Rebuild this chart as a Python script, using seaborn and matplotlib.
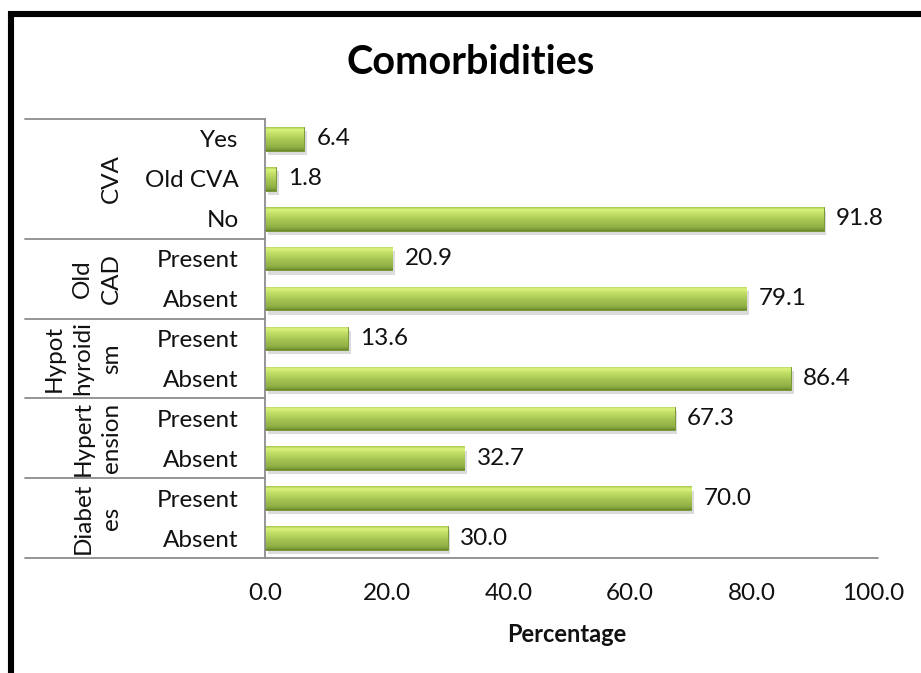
import numpy as np
import pandas as pd
import matplotlib
matplotlib.use("Agg")
import matplotlib.pyplot as plt
import matplotlib.patheffects as pe
from matplotlib.lines import Line2D
from matplotlib.colors import LinearSegmentedColormap
import seaborn as sns

# ---- data (top to bottom) ----
groups = ["CVA", "CVA", "CVA", "Old CAD", "Old CAD", "Hypothyroidism", "Hypothyroidism",
          "Hypertension", "Hypertension", "Diabetes", "Diabetes"]
group_labels = {"CVA": "CVA", "Old CAD": "Old\nCAD", "Hypothyroidism": "Hypot\nhyroidi\nsm",
                "Hypertension": "Hypert\nension", "Diabetes": "Diabet\nes"}
subcats = ["Yes", "Old CVA", "No", "Present", "Absent", "Present", "Absent",
           "Present", "Absent", "Present", "Absent"]
values = [6.4, 1.8, 91.8, 20.9, 79.1, 13.6, 86.4, 67.3, 32.7, 70.0, 30.0]
xticks = [0, 20, 40, 60, 80, 100]

df = pd.DataFrame({"key": [f"{g}|{s}" for g, s in zip(groups, subcats)],
                   "group": groups, "sub": subcats, "value": values})

sns.set_theme(style="white")
plt.rcParams["font.family"] = ["Lato", "DejaVu Sans"]

FS = 17.5
W, H = 921, 673
fig = plt.figure(figsize=(W / 100, H / 100), dpi=100)
x0, x1, ytop, ybot = 265, 873.6, 119, 558
ax = fig.add_axes([x0 / W, 1 - ybot / H, (x1 - x0) / W, (ybot - ytop) / H])

sns.barplot(data=df, y="key", x="value", orient="h", color="#9bbb59",
            width=0.59, ax=ax, edgecolor="#7a9a38", linewidth=0.7)

# cylinder-like gradient on bars
cmap = LinearSegmentedColormap.from_list("g", [
    (0.00, "#a5c64e"), (0.10, "#d9f27e"), (0.28, "#c3e066"),
    (0.55, "#a6c553"), (0.82, "#93b347"), (0.94, "#7f9e3a"), (1.00, "#66832c")])
grad = np.linspace(0, 1, 64).reshape(-1, 1)
ylim = ax.get_ylim()
for p in list(ax.patches):
    p.set_path_effects([pe.SimplePatchShadow(offset=(2, -3), shadow_rgbFace="#999999", alpha=0.35),
                        pe.Normal()])
    bx, by, bw, bh = p.get_x(), p.get_y(), p.get_width(), p.get_height()
    im = ax.imshow(grad, cmap=cmap, aspect="auto", origin="upper",
                   extent=(bx, bx + bw, by + bh, by), zorder=p.get_zorder() + 0.1)
    im.set_clip_path(p)
ax.set_xlim(0, 100)
ax.set_ylim(ylim)

# value labels
ax.bar_label(ax.containers[0], labels=[f"{v:.1f}" for v in values], padding=9,
             fontsize=FS, color="#111111")

# axes styling
for s in ["top", "right", "bottom"]:
    ax.spines[s].set_visible(False)
ax.spines["left"].set_color("#8c8c8c")
ax.spines["left"].set_linewidth(1.3)
ax.set_xticks(xticks)
ax.set_xticklabels([f"{t:.1f}" for t in xticks], fontsize=FS, color="#111111")
ax.set_yticks(range(len(subcats)))
ax.set_yticklabels(subcats, fontsize=FS, color="#111111")
ax.tick_params(axis="both", length=0)
ax.tick_params(axis="y", pad=19)
ax.tick_params(axis="x", pad=18)
ax.set_ylabel("")
ax.set_xlabel("Percentage", fontsize=17, fontweight="bold", color="#111111")
ax.xaxis.set_label_coords((567 - x0) / (x1 - x0), -(642 - ybot) / (ybot - ytop))
ax.xaxis.label.set_va("baseline")

# category table lines (figure pixel coords)
def fx(px):
    return px / W

def fy(py):
    return 1 - py / H

band = (ybot - ytop) / len(subcats)
line_kw = dict(color="#8c8c8c", linewidth=1.3, transform=fig.transFigure)
fig.add_artist(Line2D([fx(25), fx(x0)], [fy(ytop), fy(ytop)], **line_kw))
fig.add_artist(Line2D([fx(25), fx(878)], [fy(ybot), fy(ybot)], **line_kw))

# group labels and separators
order = list(dict.fromkeys(groups))
start = 0
for g in order:
    n = groups.count(g)
    end = start + n
    if end < len(groups):
        ysep = ytop + end * band
        fig.add_artist(Line2D([fx(25), fx(x0)], [fy(ysep), fy(ysep)], **line_kw))
    ycen = ytop + (start + end) / 2 * band
    fig.text(fx(122), fy(ycen), group_labels[g], rotation=90, ha="right", va="center",
             multialignment="center", fontsize=FS, color="#111111", linespacing=1.45)
    start = end

# title
fig.text(fx(471), fy(74), "Comorbidities", ha="center", va="baseline",
         fontsize=28.5, fontweight="bold", color="#000000")

# black frame (left and top)
frame_kw = dict(color="black", linewidth=4.4, transform=fig.transFigure,
                solid_capstyle="butt")
fig.add_artist(Line2D([fx(11), fx(11)], [fy(11), 0], **frame_kw))
fig.add_artist(Line2D([fx(8), 1], [fy(14), fy(14)], **frame_kw))

fig.savefig("out.png", dpi=100)
